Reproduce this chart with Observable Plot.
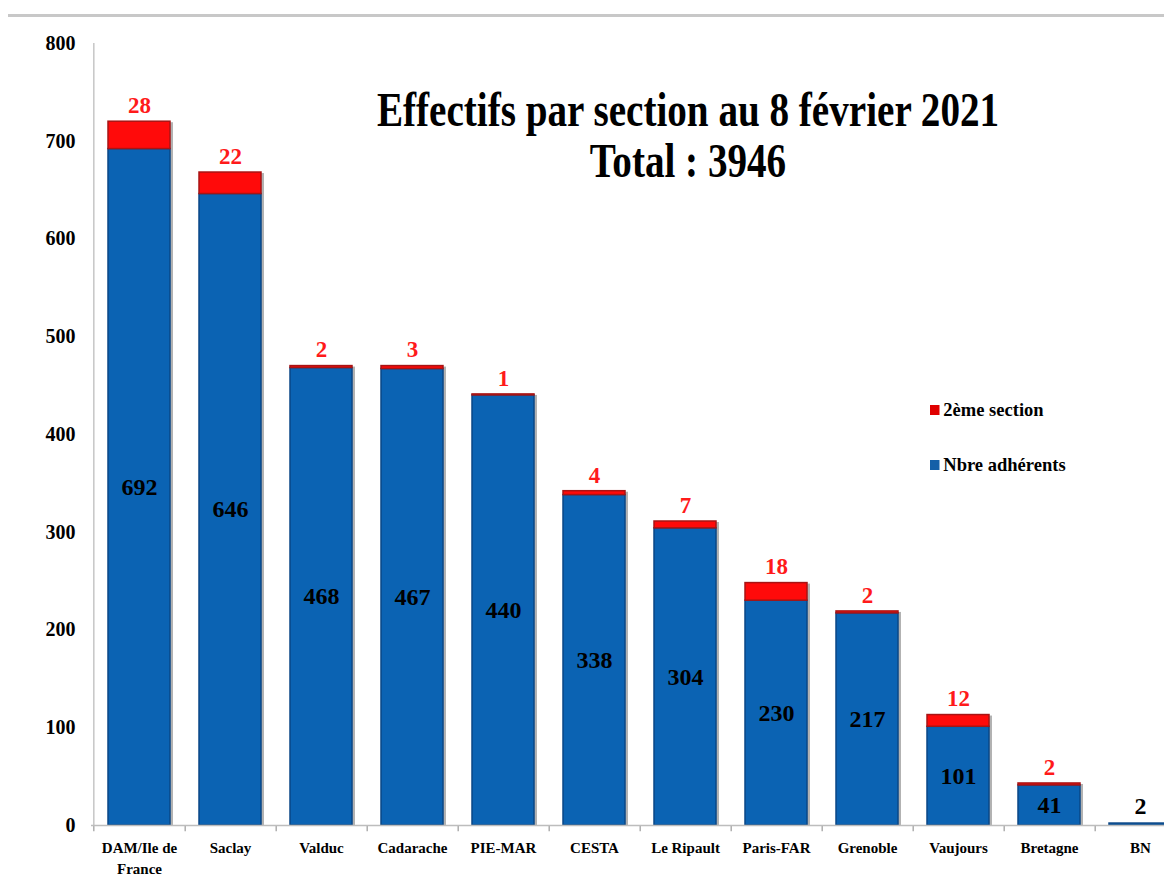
<!DOCTYPE html>
<html>
<head>
<meta charset="utf-8">
<script src="https://cdn.jsdelivr.net/npm/d3@7"></script>
<script src="https://cdn.jsdelivr.net/npm/@observablehq/plot@0.6"></script>
<style>
  body { margin: 0; background: #fff; font-family: "Liberation Serif", "Times New Roman", serif; }
  #wrap { position: relative; width: 1164px; height: 881px; overflow: hidden; }
  #topline { position: absolute; left: 8px; right: 0; top: 14px; height: 0; border-top: 3px solid #c8c8c8; }
  .title { position: absolute; left: 288px; width: 800px; text-align: center; font-weight: bold; font-size: 48px; color: #000; line-height: 1; transform: scaleX(0.815); transform-origin: 400px 0; white-space: nowrap; }
  .leg { position: absolute; font-weight: bold; font-size: 19.5px; color: #000; white-space: nowrap; transform: scaleX(0.95); transform-origin: 0 0; }
  .leg span.sw { display: inline-block; width: 10px; height: 10px; margin-right: 4px; vertical-align: 1px; }
</style>
</head>
<body>
<div id="wrap">
  <div id="chart"></div>
  <div id="topline"></div>
  <div class="title" style="top:86px">Effectifs par section au 8 février 2021</div>
  <div class="title" style="top:137px">Total : 3946</div>
  <div class="leg" style="left:930px; top:399px"><span class="sw" style="background:#e00000"></span>2ème section</div>
  <div class="leg" style="left:930px; top:454px"><span class="sw" style="background:#1560a8"></span>Nbre adhérents</div>
</div>
<script>
const sections = ["DAM/Ile de France", "Saclay", "Valduc", "Cadarache", "PIE-MAR", "CESTA", "Le Ripault", "Paris-FAR", "Grenoble", "Vaujours", "Bretagne", "BN"];
const adherents = [692, 646, 468, 467, 440, 338, 304, 230, 217, 101, 41, 2];
const deuxiemeSection = [28, 22, 2, 3, 1, 4, 7, 18, 2, 12, 2, 0];
const yTicks = [0, 100, 200, 300, 400, 500, 600, 700, 800];
const xLabels = ["DAM/Ile de\nFrance", "Saclay", "Valduc", "Cadarache", "PIE-MAR", "CESTA", "Le Ripault", "Paris-FAR", "Grenoble", "Vaujours", "Bretagne", "BN"];

const rows = sections.map((s, i) => ({section: s, blue: adherents[i], red: deuxiemeSection[i]}));
const labelOf = new Map(sections.map((s, i) => [s, xLabels[i]]));
const bigBlue = rows.filter(d => d.blue >= 20);
const smallBlue = rows.filter(d => d.blue < 20);
const withRed = rows.filter(d => d.red > 0);

const W = 1164, ML = 91;
const xRange = [91, 1187];
const halfStep = (xRange[1] - xRange[0]) / sections.length / 2;

const chart = Plot.plot({
  width: W,
  height: 881,
  marginLeft: ML,
  marginRight: 0,
  marginTop: 43,
  marginBottom: 56,
  style: {fontFamily: "'Liberation Serif', 'Times New Roman', serif", background: "transparent"},
  x: {domain: sections, range: xRange, paddingInner: 0.32, paddingOuter: 0.16, label: null},
  y: {domain: [0, 800], label: null},
  marks: [
    Plot.gridY(yTicks, {stroke: "#c8c8c8", strokeOpacity: 1, strokeWidth: 1.3, x1: 86}),
    // vertical axis line at left edge of the frame
    Plot.ruleX([sections[0]], {x: d => d, dx: -halfStep, y1: 0, y2: 800, stroke: "#bdbdbd", strokeWidth: 1.3}),
    // category boundary ticks below baseline
    Plot.ruleX(sections, {x: d => d, dx: halfStep, y1: 0, y2: -6.5, stroke: "#9a9a9a", strokeWidth: 1.2}),
    Plot.ruleX([sections[0]], {x: d => d, dx: -halfStep, y1: 0, y2: -6.5, stroke: "#9a9a9a", strokeWidth: 1.2}),
    Plot.axisY(yTicks, {tickSize: 0, tickPadding: 16, fontSize: 20, fontWeight: "bold", fill: "#000"}),
    Plot.axisX({tickSize: 0, tickPadding: 13, fontSize: 15, fontWeight: "bold", fill: "#000", tickFormat: d => labelOf.get(d), lineHeight: 1.4}),
    // bar shadows
    Plot.barY(rows, {x: "section", y1: 0, y2: d => d.blue + d.red, fill: "#000", fillOpacity: 0.3, dx: 3, dy: 1}),
    Plot.barY(rows, {x: "section", y1: 0, y2: "blue", fill: "#0b63b3", stroke: "#0a4787", strokeWidth: 1.5}),
    Plot.barY(withRed, {x: "section", y1: "blue", y2: d => d.blue + d.red, fill: "#ff0a0a", stroke: "#a81414", strokeWidth: 1.5}),
    Plot.ruleY([0], {stroke: "#bdbdbd", strokeWidth: 1.3}),
    Plot.text(bigBlue, {x: "section", y: d => d.blue / 2, text: d => String(d.blue), fontSize: 24, fontWeight: "bold", fill: "#000"}),
    Plot.text(smallBlue, {x: "section", y: "blue", dy: -17, text: d => String(d.blue), fontSize: 24, fontWeight: "bold", fill: "#000"}),
    Plot.text(withRed, {x: "section", y: d => d.blue + d.red, dy: -16, text: d => String(d.red), fontSize: 23, fontWeight: "bold", fill: "#ff1a1a"})
  ]
});
document.getElementById("chart").appendChild(chart);
</script>
</body>
</html>
